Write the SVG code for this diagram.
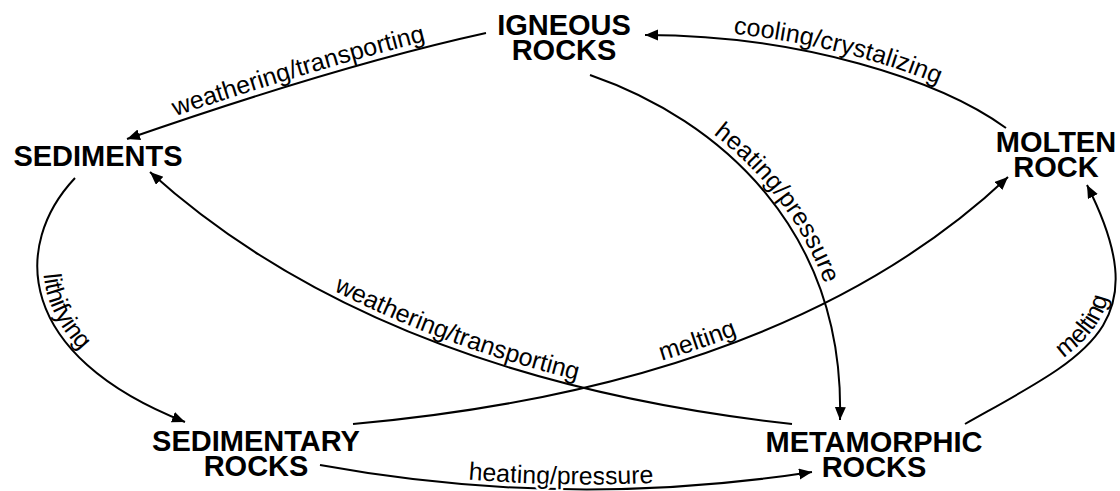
<svg xmlns="http://www.w3.org/2000/svg" xmlns:xlink="http://www.w3.org/1999/xlink" width="1120" height="491" viewBox="0 0 1120 491">
<style>
.node{font-family:"Liberation Sans",Arial,sans-serif;font-weight:bold;font-size:29px;fill:#000;text-anchor:middle}
.edge{fill:none;stroke:#000;stroke-width:2}
.lbl{font-family:"Liberation Sans",Arial,sans-serif;font-size:25px;fill:#000}
.halo{stroke:#fff;stroke-width:5;paint-order:stroke;stroke-linejoin:round}
</style>
<defs>
<marker id="arr" markerUnits="userSpaceOnUse" markerWidth="14" markerHeight="12" refX="13" refY="5.5" orient="auto">
<path d="M0,0 L13,5.5 L0,11 z" fill="#000"/>
</marker>
<path id="p1" d="M127,139 Q340,65 486,33"/>
<path id="p2" d="M645,35 C800,35 940,80 1006,128"/>
<path id="p3" d="M590,75 C720,120 845,230 840,420"/>
<path id="p4" d="M353,424 Q787,385 1008,177"/>
<path id="p5" d="M150,172 Q378,378 792,424"/>
<path id="p6" d="M75,178 C12,245 15,355 185,422"/>
<path id="p7" d="M320,465 Q566,510 812,472"/>
<path id="p8" d="M965,424 C1087,355 1159,327 1087,185"/>
</defs>
<rect width="1120" height="491" fill="#fff"/>
<g id="connectors">
<path class="edge" d="M486,33 Q340,65 127,139" marker-end="url(#arr)"/>
<path class="edge" d="M1006,128 C940,80 800,35 645,35" marker-end="url(#arr)"/>
<path class="edge" d="M590,75 C720,120 845,230 840,420" marker-end="url(#arr)"/>
<path class="edge" d="M353,424 Q787,385 1008,177" marker-end="url(#arr)"/>
<path class="edge" d="M792,424 Q378,378 150,172" marker-end="url(#arr)"/>
<path class="edge" d="M75,178 C12,245 15,355 185,422" marker-end="url(#arr)"/>
<path class="edge" d="M320,465 Q566,510 812,472" marker-end="url(#arr)"/>
<path class="edge" d="M965,424 C1087,355 1159,327 1087,185" marker-end="url(#arr)"/>
<text class="lbl" dy="-6"><textPath xlink:href="#p1" href="#p1" startOffset="49%" text-anchor="middle">weathering/transporting</textPath></text>
<text class="lbl" dy="-6"><textPath xlink:href="#p2" href="#p2" startOffset="51%" text-anchor="middle">cooling/crystalizing</textPath></text>
<text class="lbl" dy="-6"><textPath xlink:href="#p3" href="#p3" startOffset="50%" text-anchor="middle">heating/pressure</textPath></text>
<text class="lbl" dy="-6"><textPath xlink:href="#p4" href="#p4" startOffset="50%" text-anchor="middle">melting</textPath></text>
<text class="lbl" dy="-6"><textPath xlink:href="#p5" href="#p5" startOffset="50%" text-anchor="middle">weathering/transporting</textPath></text>
<text class="lbl" dy="-6"><textPath xlink:href="#p6" href="#p6" startOffset="152" text-anchor="middle">lithifying</textPath></text>
<text class="lbl halo" dy="-5"><textPath xlink:href="#p7" href="#p7" startOffset="49%" text-anchor="middle">heating/pressure</textPath></text>
<text class="lbl" dy="-6"><textPath xlink:href="#p8" href="#p8" startOffset="50%" text-anchor="middle">melting</textPath></text>
</g>
<g id="igneous"><text class="node" x="564" y="35">IGNEOUS</text><text class="node" x="564" y="60">ROCKS</text></g>
<g id="sediments"><text class="node" x="98" y="166">SEDIMENTS</text></g>
<g id="molten"><text class="node" x="1056" y="152">MOLTEN</text><text class="node" x="1056" y="177">ROCK</text></g>
<g id="sedimentary"><text class="node" x="256" y="451">SEDIMENTARY</text><text class="node" x="256" y="476">ROCKS</text></g>
<g id="metamorphic"><text class="node" x="874" y="452">METAMORPHIC</text><text class="node" x="874" y="477">ROCKS</text></g>
</svg>
